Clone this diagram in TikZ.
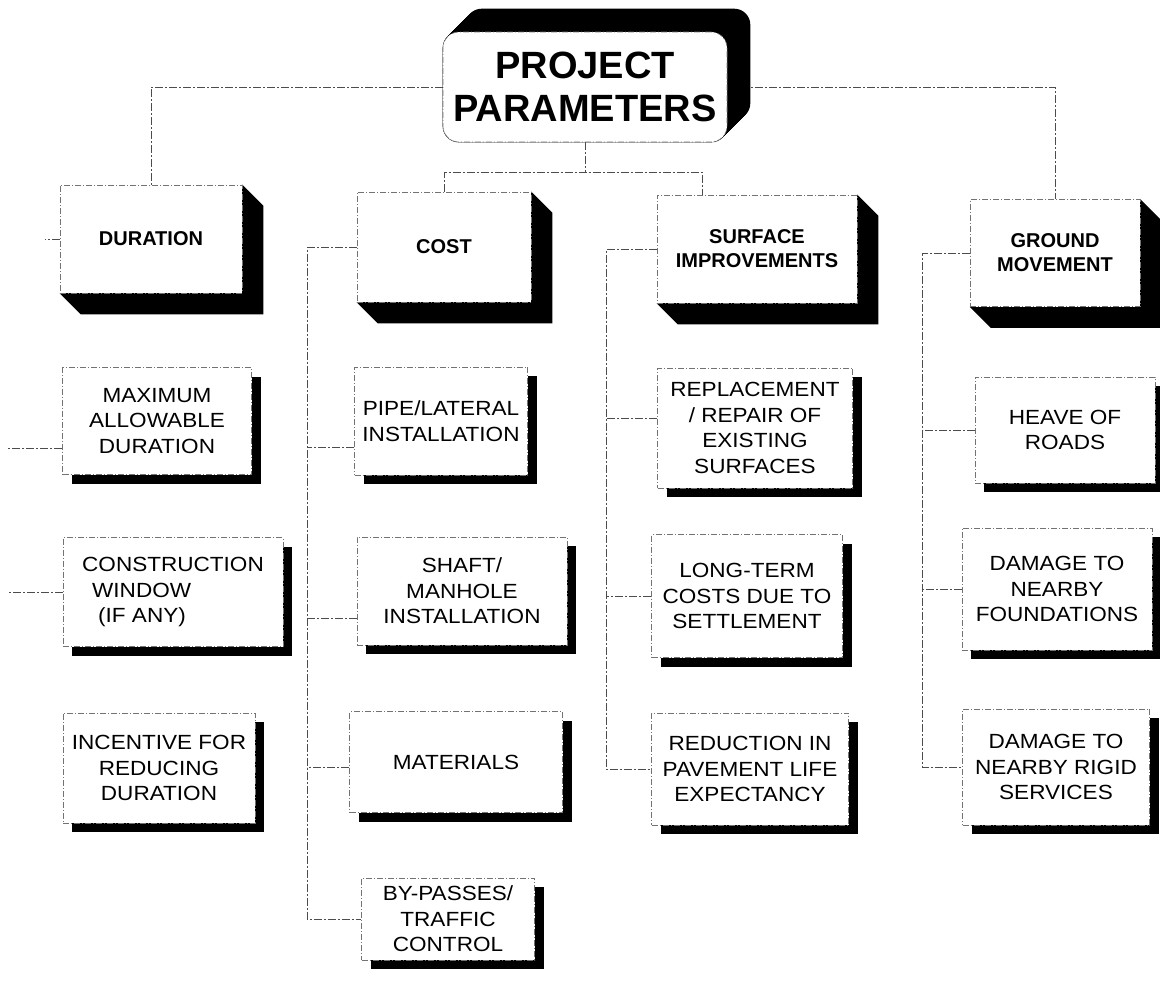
\documentclass[tikz,border=0pt]{standalone}
\usepackage{fontspec}
\setmainfont{Liberation Sans}
\newfontfamily\itemfont[FakeStretch=1.1]{Liberation Sans}
\usetikzlibrary{calc,shadows}
\pgfdeclarelayer{paper}
\pgfdeclarelayer{wires}
\pgfdeclarelayer{solid}
\pgfsetlayers{paper,wires,solid,main}

\tikzset{
  frame/.style={draw=black!55, line width=0.6pt,
    dash pattern=on 6pt off 2pt on 1pt off 2pt,
    fill=white, inner sep=2pt, align=center},
  headbox/.style={frame, rounded corners=16pt,
    font=\bfseries\fontsize{38}{43}\selectfont},
  catbox/.style={frame, font=\bfseries\fontsize{20}{24}\selectfont},
  itembox/.style={frame, font=\itemfont\fontsize{20.5}{25.5}\selectfont,
    drop shadow={shadow xshift=9pt, shadow yshift=-9pt, fill=black, opacity=1}},
  conn/.style={draw=black!70, line width=0.7pt,
    dash pattern=on 8pt off 2pt on 2pt off 2pt},
}

% black bevelled extrusion down and to the right of a category box
\newcommand\bevel[2][21]{%
  \begin{pgfonlayer}{solid}
    \fill[black] (#2.north east) -- ++(#1,#1)
      -- ($(#2.south east)+(#1,#1)$) -- ($(#2.south west)+(#1,#1)$)
      -- (#2.south west) -- cycle;
  \end{pgfonlayer}}

\begin{document}
\begin{tikzpicture}[x=1pt,y=-1pt]
\useasboundingbox (0,0) rectangle (1160,991);
\begin{pgfonlayer}{paper}
  \fill[white] (0,0) rectangle (1160,991);
\end{pgfonlayer}

% title
\node[headbox, minimum width=284pt, minimum height=110pt] (head) at (585,87) {PROJECT\\PARAMETERS};
\begin{pgfonlayer}{solid}
  \foreach \k in {0,1,...,23}
    \fill[black, rounded corners=16pt]
      ([shift={(\k,-\k)}]head.south west) rectangle ([shift={(\k,-\k)}]head.north east);
\end{pgfonlayer}

% categories
\node[catbox, minimum width=182pt, minimum height=108pt] (dur) at (151,239) {DURATION};
\node[catbox, minimum width=174pt, minimum height=110pt] (cost) at (444,247) {COST};
\node[catbox, minimum width=200pt, minimum height=108pt] (surf) at (757,249) {SURFACE\\IMPROVEMENTS};
\node[catbox, minimum width=170pt, minimum height=107pt] (ground) at (1055,253) {GROUND\\MOVEMENT};
\bevel{dur}
\bevel{cost}
\bevel{surf}
\bevel{ground}

% duration items
\node[itembox, minimum width=189pt, minimum height=107pt] (max) at (157,421) {MAXIMUM\\ALLOWABLE\\DURATION};
\node[itembox, align=left, minimum width=220pt, minimum height=109pt] (constr) at (173,592) {CONSTRUCTION\\\hspace*{10pt}WINDOW\\\hspace*{16pt}(IF ANY)};
\node[itembox, minimum width=192pt, minimum height=110pt] (incent) at (159,768) {INCENTIVE FOR\\REDUCING\\DURATION};

% cost items
\node[itembox, minimum width=173pt, minimum height=108pt] (pipe) at (441,421) {PIPE/LATERAL\\INSTALLATION};
\node[itembox, minimum width=210pt, minimum height=108pt] (shaft) at (462,591) {SHAFT/\\MANHOLE\\INSTALLATION};
\node[itembox, minimum width=213pt, minimum height=101pt] (mater) at (456,762) {MATERIALS};
\node[itembox, minimum width=173pt, minimum height=82pt] (bypass) at (448,919) {BY-PASSES/\\TRAFFIC\\CONTROL};

% surface items
\node[itembox, minimum width=195pt, minimum height=120pt] (repl) at (755,428) {REPLACEMENT\\/ REPAIR OF\\EXISTING\\SURFACES};
\node[itembox, minimum width=191pt, minimum height=123pt] (longt) at (747,596) {LONG-TERM\\COSTS DUE TO\\SETTLEMENT};
\node[itembox, minimum width=197pt, minimum height=112pt] (reduc) at (750,769) {REDUCTION IN\\PAVEMENT LIFE\\EXPECTANCY};

% ground movement items
\node[itembox, minimum width=180pt, minimum height=106pt] (heave) at (1065,430) {HEAVE OF\\ROADS};
\node[itembox, minimum width=190pt, minimum height=122pt] (found) at (1057,589) {DAMAGE TO\\NEARBY\\FOUNDATIONS};
\node[itembox, minimum width=187pt, minimum height=116pt] (rigid) at (1056,767) {DAMAGE TO\\NEARBY RIGID\\SERVICES};

% connectors
\begin{pgfonlayer}{wires}
  \draw[conn] (head.west) -| (dur.north);
  \draw[conn] (head.east) -| (ground.north);
  \draw[conn] (head.south) -- ++(0,30) coordinate (hub);
  \draw[conn] (cost.north) |- (hub) -| ([xshift=-55pt]surf.north);

  \draw[conn] (dur.west) -- ++(-15,0);
  \draw[conn] ([yshift=-27pt]max.west) -- ++(-55,0);
  \draw[conn] (constr.west) -- ++(-55,0);

  \draw[conn] (cost.west) -| ([xshift=-54pt]bypass.west) -- (bypass.west);
  \draw[conn] ([yshift=-26pt]pipe.west) -- ++(-47,0);
  \draw[conn] ([yshift=-27pt]shaft.west) -- ++(-49,0);
  \draw[conn] ([yshift=-5pt]mater.west) -- ++(-42,0);

  \draw[conn] (surf.west) -| ([xshift=-45pt]reduc.west) -- (reduc.west);
  \draw[conn] ([yshift=10pt]repl.west) -- ++(-50.5,0);
  \draw[conn] (longt.west) -- ++(-45,0);

  \draw[conn] (ground.west) -| ([xshift=-40pt]rigid.west) -- (rigid.west);
  \draw[conn] (heave.west) -- ++(-52,0);
  \draw[conn] (found.west) -- ++(-39,0);
\end{pgfonlayer}
\end{tikzpicture}
\end{document}
